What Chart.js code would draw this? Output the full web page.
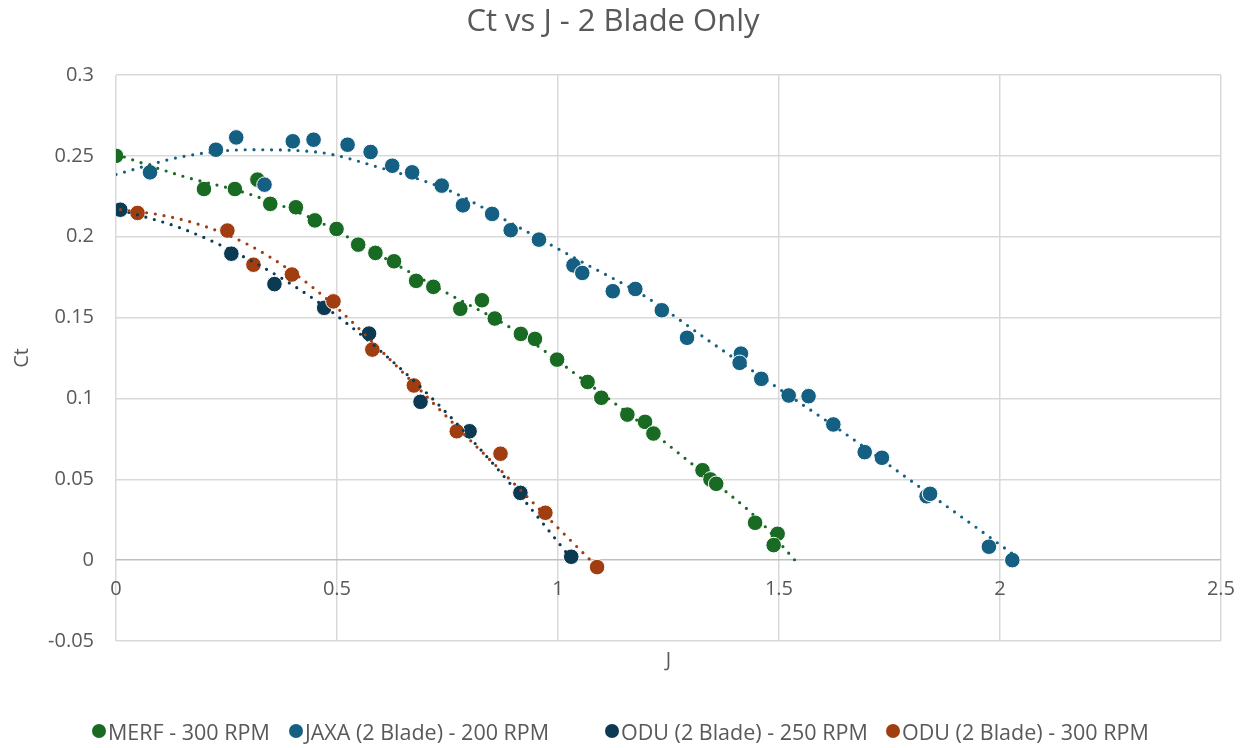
<!DOCTYPE html>
<html>
<head>
<meta charset="utf-8">
<title>Ct vs J - 2 Blade Only</title>
<script src="https://cdn.jsdelivr.net/npm/chart.js@4.4.1/dist/chart.umd.min.js"></script>
<style>
  html, body { margin: 0; padding: 0; background: #fff; }
  #wrap { position: relative; width: 1252px; height: 748px; }
  #legend { position: absolute; left: 0; top: 718px; width: 1252px; height: 26px;
            font-family: 'Open Sans', sans-serif; font-size: 21.5px; color: #595959; }
  .item { position: absolute; top: 0; height: 26px; display: flex; align-items: center; white-space: nowrap; }
  .dot { width: 14px; height: 14px; border-radius: 50%; margin-right: 2px; flex: none; }
</style>
</head>
<body>
<div id="wrap">
  <canvas id="ctChart" width="1252" height="748"></canvas>
  <div id="legend"></div>
</div>
<script>
// series names
const seriesNames = ['MERF - 300 RPM', 'JAXA (2 Blade) - 200 RPM', 'ODU (2 Blade) - 250 RPM', 'ODU (2 Blade) - 300 RPM'];

const merfJ  = [0, 0.199, 0.269, 0.320, 0.349, 0.407, 0.450, 0.499, 0.548, 0.587, 0.629, 0.679, 0.718, 0.779, 0.828,
                0.857, 0.916, 0.948, 0.998, 1.067, 1.098, 1.157, 1.197, 1.216, 1.327, 1.345, 1.358, 1.446, 1.497, 1.488];
const merfCt = [0.250, 0.2295, 0.2295, 0.2353, 0.2203, 0.2182, 0.2101, 0.2048, 0.1951, 0.1900, 0.1848, 0.1727, 0.1690, 0.1554, 0.1607,
                0.1494, 0.1399, 0.1368, 0.1240, 0.1102, 0.1004, 0.0900, 0.0855, 0.0783, 0.0556, 0.0499, 0.0472, 0.0231, 0.0163, 0.0093];

const jaxaJ  = [0.077, 0.226, 0.272, 0.336, 0.400, 0.447, 0.524, 0.576, 0.625, 0.670, 0.737, 0.785, 0.851, 0.893, 0.957, 1.035, 1.055,
                1.124, 1.175, 1.235, 1.292, 1.414, 1.411, 1.460, 1.522, 1.567, 1.623, 1.694, 1.733, 1.834, 1.842, 1.975, 2.028];
const jaxaCt = [0.2398, 0.2538, 0.2614, 0.2322, 0.2590, 0.2600, 0.2569, 0.2524, 0.2439, 0.2398, 0.2316, 0.2194, 0.2141, 0.2040, 0.1982, 0.1823, 0.1776,
                0.1663, 0.1677, 0.1545, 0.1375, 0.1277, 0.1220, 0.1121, 0.1018, 0.1014, 0.0839, 0.0668, 0.0633, 0.0395, 0.0410, 0.0083, 0.0000];

const odu250J  = [0.0097, 0.261, 0.3585, 0.471, 0.5725, 0.689, 0.800, 0.915, 1.030];
const odu250Ct = [0.2167, 0.1895, 0.1707, 0.1560, 0.1401, 0.0979, 0.0797, 0.0416, 0.0021];

const odu300J  = [0.0487, 0.252, 0.311, 0.398, 0.492, 0.580, 0.674, 0.771, 0.870, 0.9715, 1.0885];
const odu300Ct = [0.2147, 0.2038, 0.1827, 0.1766, 0.1600, 0.1302, 0.1080, 0.0797, 0.0658, 0.0293, -0.0043];

// dotted trendlines, points
const merfTrendJ  = [0, 0.15, 0.3, 0.45, 0.6, 0.75, 0.9, 1.05, 1.2, 1.35, 1.45, 1.536];
const merfTrendCt = [0.251, 0.2375, 0.2265, 0.2105, 0.188, 0.165, 0.1425, 0.113, 0.082, 0.049, 0.026, 0.0];

const jaxaTrendJ  = [0, 0.15, 0.3, 0.45, 0.6, 0.75, 0.9, 1.05, 1.2, 1.35, 1.5, 1.65, 1.8, 1.95, 2.028];
const jaxaTrendCt = [0.2385, 0.2495, 0.2538, 0.2525, 0.2425, 0.229, 0.2075, 0.185, 0.1626, 0.134, 0.106, 0.0782, 0.0488, 0.0195, 0.004];

const odu250TrendJ  = [0.01, 0.15, 0.3, 0.45, 0.6, 0.75, 0.9, 1.03];
const odu250TrendCt = [0.2165, 0.205, 0.186, 0.161, 0.129, 0.0905, 0.0447, 0.001];

const odu300TrendJ  = [0.01, 0.1, 0.2, 0.3, 0.4, 0.5, 0.6, 0.7, 0.8, 0.9, 1.0, 1.088];
const odu300TrendCt = [0.2167, 0.2135, 0.2065, 0.195, 0.178, 0.156, 0.1295, 0.102, 0.0745, 0.0475, 0.020, -0.004];

// axis ticks
const xTickValues = [0, 0.5, 1, 1.5, 2, 2.5];
const xTickLabels = ['0', '0.5', '1', '1.5', '2', '2.5'];
const yTickValues = [-0.05, 0, 0.05, 0.1, 0.15, 0.2, 0.25, 0.3];
const yTickLabels = ['-0.05', '0', '0.05', '0.1', '0.15', '0.2', '0.25', '0.3'];

const seriesColors = ['#196B24', '#156082', '#0C3A52', '#A03E12'];
const legendLeft = [92, 289, 605, 886];
const textColor = '#595959';
const fontFamily = "'Open Sans', 'Liberation Sans', sans-serif";

function pairs(xs, ys) {
  return xs.map((x, i) => ({ x: x, y: ys[i] }));
}

const points = [[merfJ, merfCt], [jaxaJ, jaxaCt], [odu250J, odu250Ct], [odu300J, odu300Ct]];
const trends = [[merfTrendJ, merfTrendCt], [jaxaTrendJ, jaxaTrendCt], [odu250TrendJ, odu250TrendCt], [odu300TrendJ, odu300TrendCt]];

const datasets = [];
points.forEach((p, i) => {
  datasets.push({
    label: seriesNames[i],
    data: pairs(p[0], p[1]),
    backgroundColor: seriesColors[i],
    borderColor: '#ffffff',
    borderWidth: 1,
    pointRadius: 7.8,
    pointHoverRadius: 7.8,
    order: 10 - i
  });
});
trends.forEach((t, i) => {
  datasets.push({
    label: seriesNames[i] + ' trend',
    data: pairs(t[0], t[1]),
    showLine: true,
    pointRadius: 0,
    borderColor: seriesColors[i],
    borderWidth: 3.2,
    borderDash: [0, 8.8],
    borderCapStyle: 'round',
    cubicInterpolationMode: 'monotone',
    fill: false,
    order: 4 - i
  });
});

const setTicks = values => scale => { scale.ticks = values.map(v => ({ value: v })); };

new Chart(document.getElementById('ctChart'), {
  type: 'scatter',
  data: { datasets: datasets },
  options: {
    responsive: false,
    devicePixelRatio: 1,
    animation: false,
    events: [],
    layout: { padding: { left: 0, right: 26, top: 0, bottom: 67 } },
    plugins: {
      legend: { display: false },
      tooltip: { enabled: false },
      title: {
        display: true,
        text: 'Ct vs J - 2 Blade Only',
        color: textColor,
        font: { family: fontFamily, size: 31, weight: 'normal' },
        padding: { top: 4, bottom: 33.8 }
      }
    },
    scales: {
      x: {
        type: 'linear', position: 'bottom', min: 0, max: 2.5,
        afterBuildTicks: setTicks(xTickValues),
        ticks: { display: false },
        grid: { color: '#D9D9D9', lineWidth: 1.5, drawTicks: false },
        border: { display: false },
        title: {
          display: true, text: 'J', color: textColor,
          font: { family: fontFamily, size: 20 },
          padding: { top: 0, bottom: 9 }
        },
        afterFit: scale => { scale.height = 40; }
      },
      xLabels: {
        type: 'linear', axis: 'x', position: { y: 0 }, min: 0, max: 2.5,
        afterBuildTicks: setTicks(xTickValues),
        ticks: {
          autoSkip: false, maxRotation: 0, padding: 17, color: textColor,
          font: { family: fontFamily, size: 20 },
          callback: (v, i) => xTickLabels[i]
        },
        grid: { drawOnChartArea: false, drawTicks: false },
        border: { display: false }
      },
      y: {
        type: 'linear', position: 'left', min: -0.05, max: 0.3,
        afterBuildTicks: setTicks(yTickValues),
        ticks: {
          padding: 22, color: textColor,
          font: { family: fontFamily, size: 20 },
          callback: (v, i) => yTickLabels[i]
        },
        grid: {
          color: ctx => (ctx.tick && ctx.tick.value === 0 ? '#BFBFBF' : '#D9D9D9'),
          lineWidth: 1.5,
          drawTicks: false
        },
        border: { display: false },
        title: {
          display: true, text: 'Ct', color: textColor,
          font: { family: fontFamily, size: 20 },
          padding: { top: 10, bottom: 0 }
        },
        afterFit: scale => { scale.width = 116; }
      }
    }
  }
});

// legend
const legend = document.getElementById('legend');
seriesNames.forEach((name, i) => {
  const item = document.createElement('div');
  item.className = 'item';
  item.style.left = legendLeft[i] + 'px';
  const dot = document.createElement('span');
  dot.className = 'dot';
  dot.style.background = seriesColors[i];
  const txt = document.createElement('span');
  txt.textContent = name;
  item.appendChild(dot);
  item.appendChild(txt);
  legend.appendChild(item);
});
</script>
</body>
</html>
